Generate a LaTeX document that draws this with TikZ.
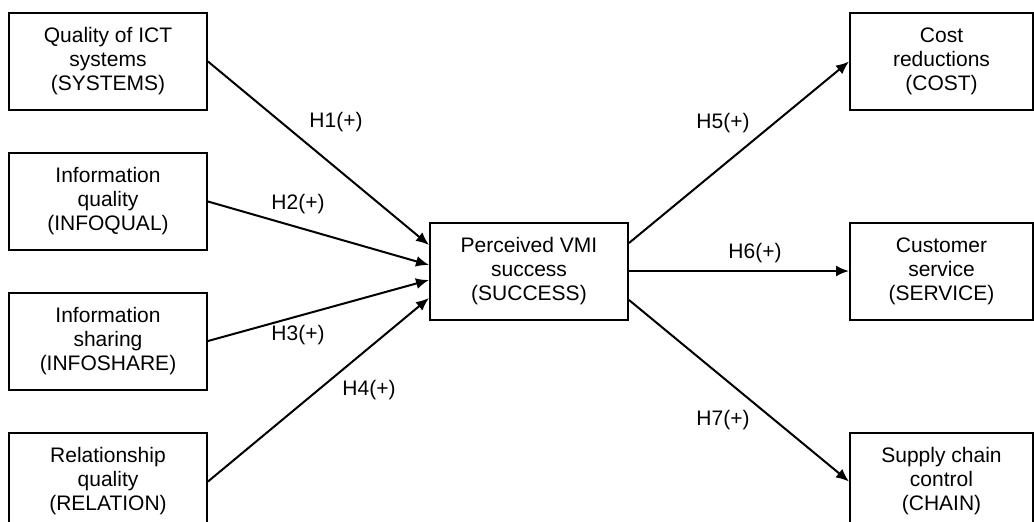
\documentclass[tikz,border=0pt]{standalone}
\usepackage{fontspec}
\setmainfont{Liberation Sans}
\usetikzlibrary{arrows.meta,calc}
\tikzset{
	construct/.style={draw,line width=2pt,minimum width=198pt,minimum height=97pt,align=center,inner sep=0pt,font=\fontsize{21}{24}\selectfont},
	outcome/.style={construct,minimum width=183pt},
	hyp/.style={-{Latex[length=13pt,width=11pt]},line width=2pt},
	hlabel/.style={font=\fontsize{21}{24}\selectfont,inner sep=0pt}
}

\begin{document}
\begin{tikzpicture}[x=1pt,y=-1pt]
		\useasboundingbox (0,0) rectangle (1034,522);
		\clip (0,0) rectangle (1034,522);
		% antecedents
		\node[construct] (systems) at (108,61.5) {Quality of ICT\\systems\\(SYSTEMS)};
		\node[construct] (infoqual) at (108,201.5) {Information\\quality\\(INFOQUAL)};
		\node[construct] (infoshare) at (108,341) {Information\\sharing\\(INFOSHARE)};
		\node[construct] (relation) at (108,481.5) {Relationship\\quality\\(RELATION)};
		% mediator
		\node[construct] (success) at (529,271) {Perceived VMI\\success\\(SUCCESS)};
		% outcomes
		\node[outcome] (cost) at (941.5,61.5) {Cost\\reductions\\(COST)};
		\node[outcome] (service) at (941.5,271) {Customer\\service\\(SERVICE)};
		\node[outcome] (chain) at (941.5,481.5) {Supply chain\\control\\(CHAIN)};
		% hypotheses
		\draw[hyp] (systems.east) -- ([yshift=26pt]success.west);
		\draw[hyp] (infoqual.east) -- ([yshift=6pt]success.west);
		\draw[hyp] (infoshare.east) -- ([yshift=-9pt]success.west);
		\draw[hyp] (relation.east) -- ([yshift=-27pt]success.west);
		\draw[hyp] ([yshift=28pt]success.east) -- (cost.west);
		\draw[hyp] (success.east) -- (service.west);
		\draw[hyp] ([yshift=-29pt]success.east) -- (chain.west);
		\node[hlabel] (h1) at (336,122) {H1(+)};
		\node[hlabel] (h2) at (298,204) {H2(+)};
		\node[hlabel] (h3) at (298,335) {H3(+)};
		\node[hlabel] (h4) at (369,390) {H4(+)};
		\node[hlabel] (h5) at (723,123) {H5(+)};
		\node[hlabel] (h6) at (755,253) {H6(+)};
		\node[hlabel] (h7) at (723,420) {H7(+)};
	\end{tikzpicture}
\end{document}
